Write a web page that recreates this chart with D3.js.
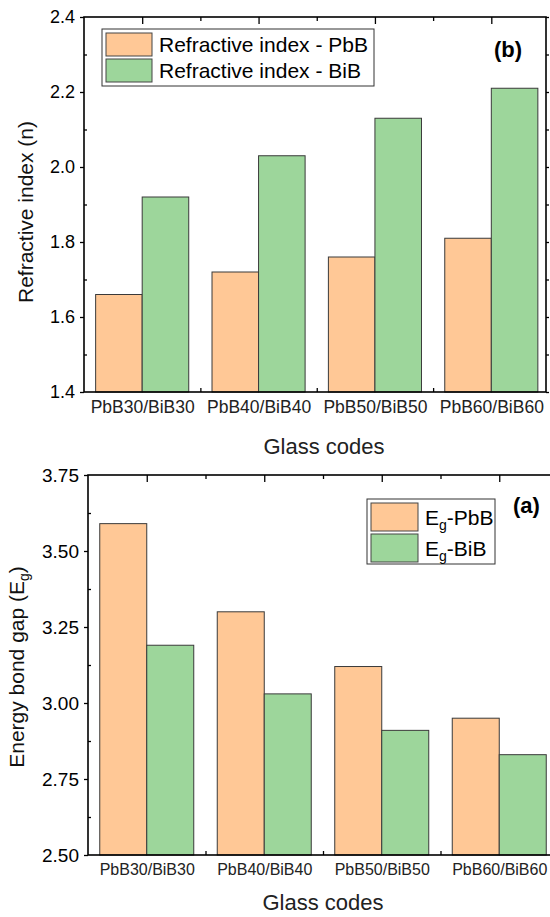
<!DOCTYPE html>
<html lang="en">
<head>
<meta charset="UTF-8" />
<title>Refractive index and energy gap</title>
<script src="https://cdn.jsdelivr.net/npm/d3@7/dist/d3.min.js"></script>
<style>
  body { margin: 0; background: #fff; }
  svg { font-family: "Liberation Sans", Arial, sans-serif; }
</style>
</head>
<body>
<script>
// data
let codes = ["PbB30/BiB30", "PbB40/BiB40", "PbB50/BiB50", "PbB60/BiB60"];
let nPbB = [1.66, 1.72, 1.76, 1.81];
let nBiB = [1.92, 2.03, 2.13, 2.21];
let egPbB = [3.59, 3.30, 3.12, 2.95];
let egBiB = [3.19, 3.03, 2.91, 2.83];
let nTicks = [1.4, 1.6, 1.8, 2.0, 2.2, 2.4];
let egTicks = [2.50, 2.75, 3.00, 3.25, 3.50, 3.75];

let orange = "#ffc896";
let green = "#9dd69b";

let width = 550, height = 917;
let svg = d3.select("body").append("svg")
    .attr("width", width)
    .attr("height", height);

function panel(o) {
    let g = svg.append("g");
    let x = d3.scaleLinear().domain(o.xDomain).range([o.left, o.right]);
    let y = d3.scaleLinear().domain(o.yDomain).range([o.bottom, o.top]);
    let bw = 0.4;

    // bars
    let series = [{vals: o.a, col: orange, off: -bw}, {vals: o.b, col: green, off: 0}];
    series.forEach(s => {
        g.selectAll(null)
            .data(s.vals)
            .enter()
            .append("rect")
            .attr("x", (d, i) => x(i + 1 + s.off))
            .attr("width", x(bw) - x(0))
            .attr("y", d => y(d))
            .attr("height", d => y(o.yDomain[0]) - y(d))
            .attr("fill", s.col)
            .attr("stroke", "#3a3a3a")
            .attr("stroke-width", 1);
    });

    // left axis: major out, minor in
    let minorY = d3.range(o.yDomain[0], o.yDomain[1] + 1e-9, o.step / 2)
        .filter(v => !o.yTicks.some(t => Math.abs(t - v) < 1e-9));
    g.append("g")
        .attr("transform", `translate(${o.left},0)`)
        .call(d3.axisLeft(y).tickValues(o.yTicks).tickSize(4).tickPadding(5).tickFormat(d3.format(o.fmt)))
        .call(a => a.select(".domain").remove())
        .call(a => a.selectAll("text").attr("font-size", o.yFont).attr("fill", "#000"));
    g.append("g")
        .attr("transform", `translate(${o.left},0)`)
        .call(d3.axisRight(y).tickValues(minorY).tickSize(3).tickFormat(""))
        .call(a => a.select(".domain").remove());

    // right axis ticks
    g.append("g")
        .attr("transform", `translate(${o.right},0)`)
        .call(d3.axisRight(y).tickValues(o.yTicks.concat(minorY)).tickSize(3).tickFormat(""))
        .call(a => a.select(".domain").remove());

    // top and bottom category ticks (inward)
    let majorX = [1, 2, 3, 4], minorX = [1.5, 2.5, 3.5];
    g.append("g")
        .attr("transform", `translate(0,${o.top})`)
        .call(d3.axisBottom(x).tickValues(majorX).tickSize(7).tickFormat(""))
        .call(a => a.select(".domain").remove());
    g.append("g")
        .attr("transform", `translate(0,${o.top})`)
        .call(d3.axisBottom(x).tickValues(minorX).tickSize(4).tickFormat(""))
        .call(a => a.select(".domain").remove());
    g.append("g")
        .attr("transform", `translate(0,${o.bottom})`)
        .call(d3.axisTop(x).tickValues(minorX).tickSize(4).tickFormat(""))
        .call(a => a.select(".domain").remove());

    // category labels
    g.append("g")
        .attr("transform", `translate(0,${o.bottom})`)
        .call(d3.axisBottom(x).tickValues(majorX).tickSize(0).tickPadding(o.xPad).tickFormat((d, i) => codes[i]))
        .call(a => a.select(".domain").remove())
        .call(a => a.selectAll("text").attr("font-size", o.xFont).attr("fill", "#222"));

    // frame
    g.append("rect")
        .attr("x", o.left).attr("y", o.top)
        .attr("width", o.right - o.left).attr("height", o.bottom - o.top)
        .attr("fill", "none").attr("stroke", "#000").attr("stroke-width", 1.6);

    g.selectAll(".tick line").attr("stroke", "#000").attr("stroke-width", 1.3);

    // titles
    g.append("text")
        .attr("x", o.xTitleX).attr("y", o.xTitleY)
        .attr("text-anchor", "middle")
        .attr("font-size", 22)
        .attr("fill", "#222")
        .text("Glass codes");

    let yt = g.append("text")
        .attr("transform", `translate(${o.yTitleX},${o.yTitleY}) rotate(-90)`)
        .attr("text-anchor", "middle")
        .attr("font-size", 21)
        .attr("fill", "#111");
    o.yTitle(yt);

    g.append("text")
        .attr("x", o.tagX).attr("y", o.tagY)
        .attr("font-size", 22).attr("font-weight", "bold")
        .text(o.tag);

    // legend
    let lg = g.append("g");
    lg.append("rect")
        .attr("x", o.leg.x).attr("y", o.leg.y)
        .attr("width", o.leg.w).attr("height", o.leg.h)
        .attr("fill", "#fff").attr("stroke", "#333").attr("stroke-width", 1);
    [orange, green].forEach((c, i) => {
        let ry = o.leg.y + 4 + i * o.leg.row;
        lg.append("rect")
            .attr("x", o.leg.x + 4).attr("y", ry)
            .attr("width", o.leg.sw).attr("height", o.leg.row - 3)
            .attr("fill", c).attr("stroke", "#444").attr("stroke-width", 1);
        let t = lg.append("text")
            .attr("x", o.leg.x + o.leg.sw + 11)
            .attr("y", ry + o.leg.row / 2 + 6)
            .attr("font-size", 21);
        o.leg.label(t, i);
    });
}

// (b) refractive index
panel({
    left: 84, right: 546, top: 17, bottom: 392,
    xDomain: [0.5, 4.47], yDomain: [1.4, 2.4], step: 0.2,
    yTicks: nTicks, fmt: ".1f", a: nPbB, b: nBiB,
    yFont: 18, xFont: 17.5, xPad: 9,
    xTitleX: 324, xTitleY: 454,
    yTitleX: 33, yTitleY: 212,
    yTitle: t => t.text("Refractive index (n)"),
    tag: "(b)", tagX: 494, tagY: 57,
    leg: {x: 102, y: 29, w: 272, h: 57, row: 26, sw: 46,
        label: (t, i) => t.text(i === 0 ? "Refractive index - PbB" : "Refractive index - BiB")}
});

// (a) energy bond gap
panel({
    left: 88, right: 558, top: 475, bottom: 855,
    xDomain: [0.5, 4.5], yDomain: [2.5, 3.75], step: 0.25,
    yTicks: egTicks, fmt: ".2f", a: egPbB, b: egBiB,
    yFont: 19, xFont: 16, xPad: 9,
    xTitleX: 323, xTitleY: 910,
    yTitleX: 24, yTitleY: 667,
    yTitle: t => {
        t.append("tspan").text("Energy bond gap (E");
        t.append("tspan").attr("font-size", 14).attr("dy", 5).text("g");
        t.append("tspan").attr("dy", -5).text(")");
    },
    tag: "(a)", tagX: 513, tagY: 513,
    leg: {x: 367, y: 499, w: 128, h: 65, row: 31, sw: 47,
        label: (t, i) => {
            t.append("tspan").text("E");
            t.append("tspan").attr("font-size", 14).attr("dy", 5).text("g");
            t.append("tspan").attr("dy", -5).text(i === 0 ? "-PbB" : "-BiB");
        }}
});
</script>
</body>
</html>
